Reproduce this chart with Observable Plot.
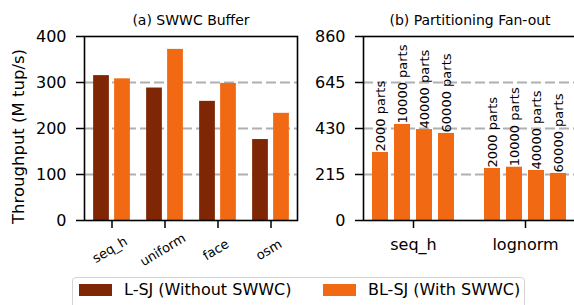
<!DOCTYPE html>
<html>
<head>
<meta charset="utf-8">
<script src="https://cdn.jsdelivr.net/npm/d3@7"></script>
<script src="https://cdn.jsdelivr.net/npm/@observablehq/plot@0.6"></script>
<style>
  html, body { margin: 0; padding: 0; background: #fff; overflow: hidden; }
  #wrap { position: relative; width: 574px; height: 305px; font-family: 'DejaVu Sans', sans-serif; color: #000; }
  #left { position: absolute; left: 0; top: 0; width: 300px; }
  #right { position: absolute; left: 290px; top: 0; width: 290px; }
  #left svg, #right svg { max-width: none !important; }
  .legend-box { position: absolute; left: 72px; top: 277px; width: 453px; height: 40px; border: 1.5px solid #d4d4d4; border-radius: 4px; box-sizing: border-box; background: #fff; }
  .patch { position: absolute; top: 284px; width: 33px; height: 12px; }
  .ltext { position: absolute; top: 280px; font-size: 16px; line-height: 20px; white-space: nowrap; }
</style>
</head>
<body>
<div id="wrap">
  <div id="left"></div>
  <div id="right"></div>
  <div class="legend-box"></div>
  <div class="patch" id="p1" style="left:79px;"></div>
  <div class="ltext" id="t1" style="left:124px;"></div>
  <div class="patch" id="p2" style="left:323px;"></div>
  <div class="ltext" id="t2" style="left:368px;"></div>
</div>
<script>
// ---- data ----
const cats = ["seq_h", "uniform", "face", "osm"];
const lsj = [315, 288, 259, 176];
const blsj = [308, 372, 298, 233];
const seriesNames = ["L-SJ (Without SWWC)", "BL-SJ (With SWWC)"];
const leftTicks = [0, 100, 200, 300, 400];

const fanGroups = ["seq_h", "lognorm"];
const parts = [2000, 10000, 40000, 60000];
const seqhFan = [318, 449, 425, 407];
const lognormFan = [243, 249, 234, 220];
const rightTicks = [0, 215, 430, 645, 860];

const titles = ["(a) SWWC Buffer", "(b) Partitioning Fan-out"];
const yLabel = "Throughput (M tup/s)";

// ---- styling ----
const BROWN = "#7f2704", ORANGE = "#f16913";
const GRID = {stroke: "#b0b0b0", strokeWidth: 1.8, strokeDasharray: "10,4"};
const FONT = "'DejaVu Sans', sans-serif";
const barW = 16;

// ---- left panel ----
const leftRows = cats.map((c, i) => ({cat: c, l: lsj[i], b: blsj[i]}));
const LW = 300, LH = 275, LML = 84, LMR = 3;
const lbw = (LW - LML - LMR) / cats.length;
const lin = (lbw - barW) / 2;

const left = Plot.plot({
  width: LW, height: LH,
  marginLeft: LML, marginRight: LMR, marginTop: 36, marginBottom: LH - 220,
  style: {fontFamily: FONT, background: "transparent", color: "#000", overflow: "visible", maxWidth: "none"},
  x: {domain: cats, padding: 0},
  y: {domain: [0, 400]},
  marks: [
    Plot.ruleY(leftTicks.slice(1, -1), GRID),
    Plot.barY(leftRows, {x: "cat", y: "l", fill: BROWN, dx: -10.5, insetLeft: lin, insetRight: lin}),
    Plot.barY(leftRows, {x: "cat", y: "b", fill: ORANGE, dx: 10.5, insetLeft: lin, insetRight: lin}),
    Plot.axisY({ticks: leftTicks, tickSize: 8, tickPadding: 10, fontSize: 16, label: null, strokeWidth: 1.5}),
    Plot.axisX({tickSize: 8, tickFormat: () => "", label: null, strokeWidth: 1.5}),
    Plot.text(cats, {x: d => d, text: d => d, frameAnchor: "bottom", rotate: -31, dy: 33, fontSize: 13, textAnchor: "middle"}),
    Plot.text([yLabel], {text: d => d, frameAnchor: "left", textAnchor: "middle", rotate: -90, dx: -66, dy: 8, fontSize: 16.5}),
    Plot.text([titles[0]], {text: d => d, frameAnchor: "top", dy: -21, fontSize: 14}),
    Plot.frame({stroke: "#000", strokeWidth: 1.6})
  ]
});
document.getElementById("left").appendChild(left);

// ---- right panel ----
const fanRows = [];
fanGroups.forEach((g, gi) => {
  const vals = gi === 0 ? seqhFan : lognormFan;
  parts.forEach((p, j) => fanRows.push({group: g, part: p, j, v: vals[j]}));
});
const RW = 290, RH = 275, RML = 73, RMR = 4;
const rStep = 112;
const rC0 = 123.3;
const rin = (rStep - barW) / 2;
const spacing = 22;

const rightMarks = [Plot.ruleY(rightTicks.slice(1, -1), GRID)];
parts.forEach((p, j) => {
  const rows = fanRows.filter(r => r.j === j);
  const dx = (j - (parts.length - 1) / 2) * spacing;
  rightMarks.push(Plot.barY(rows, {x: "group", y: "v", fill: ORANGE, dx, insetLeft: rin, insetRight: rin}));
  rightMarks.push(Plot.text(rows, {x: "group", y: "v", text: r => `${r.part} parts`, rotate: -90, textAnchor: "start", dx: dx, dy: -1, fontSize: 13}));
});
rightMarks.push(
  Plot.axisY({ticks: rightTicks, tickSize: 8, tickPadding: 10, fontSize: 16, label: null, strokeWidth: 1.5}),
  Plot.axisX({tickSize: 8, tickPadding: 10, fontSize: 16, label: null, strokeWidth: 1.5}),
  Plot.text([titles[1]], {text: d => d, frameAnchor: "top", dy: -21, fontSize: 14}),
  Plot.frame({stroke: "#000", strokeWidth: 1.6})
);

const right = Plot.plot({
  width: RW, height: RH,
  marginLeft: RML, marginRight: RMR, marginTop: 36, marginBottom: RH - 220,
  style: {fontFamily: FONT, background: "transparent", color: "#000", overflow: "visible", maxWidth: "none"},
  x: {domain: fanGroups, padding: 0, range: [rC0 - rStep / 2, rC0 + rStep * 1.5]},
  y: {domain: [0, 860]},
  marks: rightMarks
});
document.getElementById("right").appendChild(right);

// ---- legend ----
document.getElementById("p1").style.background = BROWN;
document.getElementById("p2").style.background = ORANGE;
document.getElementById("t1").textContent = seriesNames[0];
document.getElementById("t2").textContent = seriesNames[1];
</script>
</body>
</html>
